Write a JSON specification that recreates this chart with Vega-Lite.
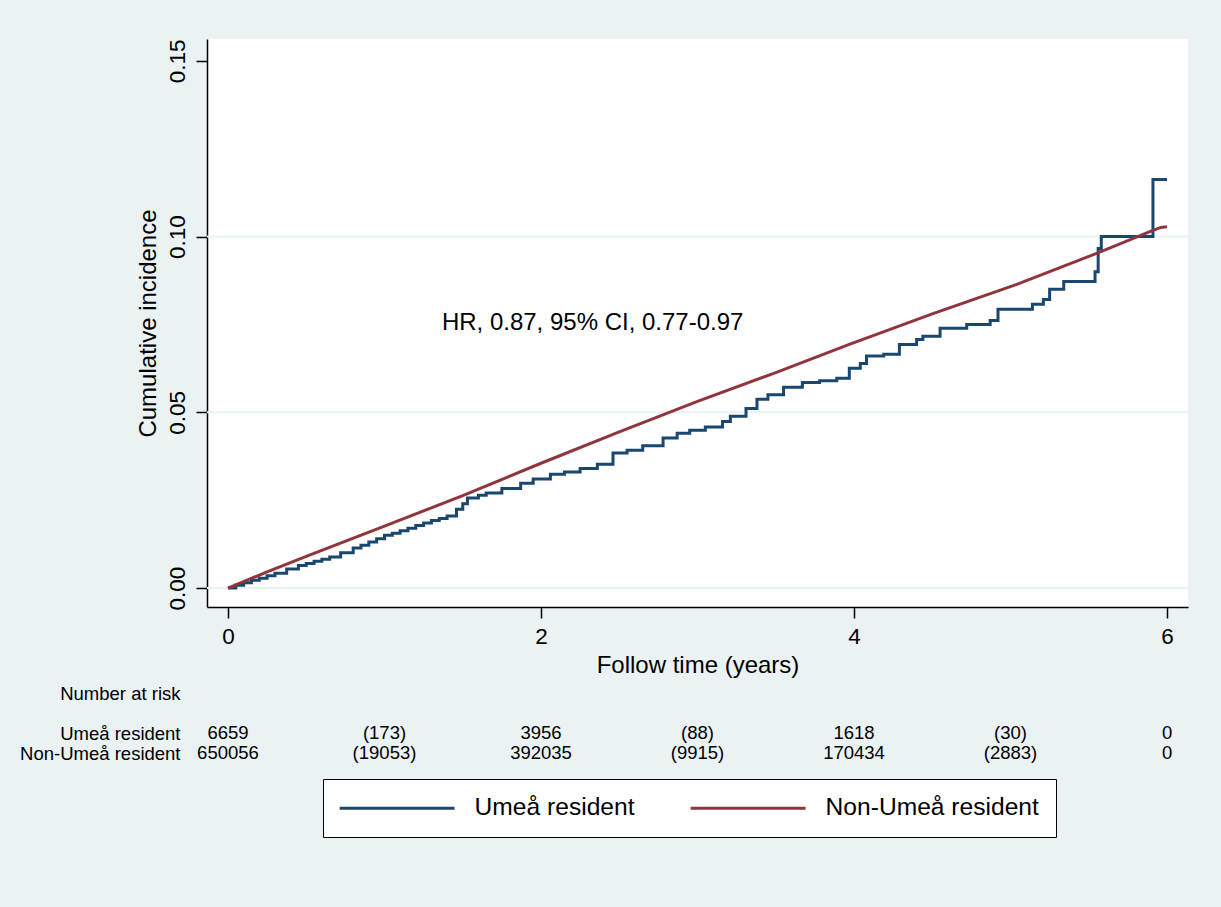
{
  "$schema": "https://vega.github.io/schema/vega-lite/v6.json",
  "background": "#EAF2F3",
  "padding": {"left": 19, "top": 38, "right": 33, "bottom": 71},
  "config": {
    "font": "Liberation Sans",
    "view": {"stroke": null},
    "axis": {"labelColor": "black", "titleColor": "black", "domainColor": "black", "tickColor": "black", "titleFontWeight": "normal", "grid": false}
  },
  "spacing": 5,
  "resolve": {"scale": {"x": "independent", "y": "independent"}},
  "datasets": {
    "curves": [
      {"group": "Umeå resident", "t": 0, "ci": 0},
      {"group": "Umeå resident", "t": 0.05, "ci": 0.0008},
      {"group": "Umeå resident", "t": 0.1, "ci": 0.0015},
      {"group": "Umeå resident", "t": 0.15, "ci": 0.0022},
      {"group": "Umeå resident", "t": 0.2, "ci": 0.0028},
      {"group": "Umeå resident", "t": 0.25, "ci": 0.0035},
      {"group": "Umeå resident", "t": 0.3, "ci": 0.0042},
      {"group": "Umeå resident", "t": 0.375, "ci": 0.0054},
      {"group": "Umeå resident", "t": 0.45, "ci": 0.0064},
      {"group": "Umeå resident", "t": 0.5, "ci": 0.007},
      {"group": "Umeå resident", "t": 0.55, "ci": 0.0076},
      {"group": "Umeå resident", "t": 0.6, "ci": 0.0082},
      {"group": "Umeå resident", "t": 0.65, "ci": 0.0088},
      {"group": "Umeå resident", "t": 0.72, "ci": 0.01},
      {"group": "Umeå resident", "t": 0.8, "ci": 0.0114},
      {"group": "Umeå resident", "t": 0.85, "ci": 0.0122},
      {"group": "Umeå resident", "t": 0.9, "ci": 0.0131},
      {"group": "Umeå resident", "t": 0.95, "ci": 0.014},
      {"group": "Umeå resident", "t": 1.0, "ci": 0.015},
      {"group": "Umeå resident", "t": 1.05, "ci": 0.0156},
      {"group": "Umeå resident", "t": 1.1, "ci": 0.0163},
      {"group": "Umeå resident", "t": 1.15, "ci": 0.017},
      {"group": "Umeå resident", "t": 1.2, "ci": 0.0178},
      {"group": "Umeå resident", "t": 1.25, "ci": 0.0185},
      {"group": "Umeå resident", "t": 1.3, "ci": 0.0192},
      {"group": "Umeå resident", "t": 1.35, "ci": 0.0198},
      {"group": "Umeå resident", "t": 1.4, "ci": 0.0205},
      {"group": "Umeå resident", "t": 1.46, "ci": 0.0224},
      {"group": "Umeå resident", "t": 1.5, "ci": 0.024},
      {"group": "Umeå resident", "t": 1.53, "ci": 0.0256},
      {"group": "Umeå resident", "t": 1.6, "ci": 0.0264},
      {"group": "Umeå resident", "t": 1.65, "ci": 0.027},
      {"group": "Umeå resident", "t": 1.75, "ci": 0.0283},
      {"group": "Umeå resident", "t": 1.87, "ci": 0.0298},
      {"group": "Umeå resident", "t": 1.95, "ci": 0.031},
      {"group": "Umeå resident", "t": 2.06, "ci": 0.0324},
      {"group": "Umeå resident", "t": 2.15, "ci": 0.033},
      {"group": "Umeå resident", "t": 2.25, "ci": 0.034},
      {"group": "Umeå resident", "t": 2.36, "ci": 0.0352},
      {"group": "Umeå resident", "t": 2.46, "ci": 0.0384},
      {"group": "Umeå resident", "t": 2.55, "ci": 0.0392},
      {"group": "Umeå resident", "t": 2.65, "ci": 0.0405},
      {"group": "Umeå resident", "t": 2.78, "ci": 0.0427},
      {"group": "Umeå resident", "t": 2.87, "ci": 0.044},
      {"group": "Umeå resident", "t": 2.95, "ci": 0.0449},
      {"group": "Umeå resident", "t": 3.05, "ci": 0.0458},
      {"group": "Umeå resident", "t": 3.16, "ci": 0.0474},
      {"group": "Umeå resident", "t": 3.21, "ci": 0.0489},
      {"group": "Umeå resident", "t": 3.31, "ci": 0.0511},
      {"group": "Umeå resident", "t": 3.38, "ci": 0.0537},
      {"group": "Umeå resident", "t": 3.45, "ci": 0.055},
      {"group": "Umeå resident", "t": 3.55, "ci": 0.0571},
      {"group": "Umeå resident", "t": 3.67, "ci": 0.0585},
      {"group": "Umeå resident", "t": 3.78, "ci": 0.059},
      {"group": "Umeå resident", "t": 3.89, "ci": 0.0597},
      {"group": "Umeå resident", "t": 3.97, "ci": 0.0625},
      {"group": "Umeå resident", "t": 4.04, "ci": 0.0639},
      {"group": "Umeå resident", "t": 4.08, "ci": 0.066},
      {"group": "Umeå resident", "t": 4.19, "ci": 0.0665},
      {"group": "Umeå resident", "t": 4.29, "ci": 0.0693},
      {"group": "Umeå resident", "t": 4.4, "ci": 0.0707},
      {"group": "Umeå resident", "t": 4.44, "ci": 0.0716},
      {"group": "Umeå resident", "t": 4.55, "ci": 0.0739},
      {"group": "Umeå resident", "t": 4.72, "ci": 0.075},
      {"group": "Umeå resident", "t": 4.87, "ci": 0.0761},
      {"group": "Umeå resident", "t": 4.92, "ci": 0.0793},
      {"group": "Umeå resident", "t": 5.14, "ci": 0.0807},
      {"group": "Umeå resident", "t": 5.21, "ci": 0.0821},
      {"group": "Umeå resident", "t": 5.25, "ci": 0.085},
      {"group": "Umeå resident", "t": 5.34, "ci": 0.0872},
      {"group": "Umeå resident", "t": 5.54, "ci": 0.09},
      {"group": "Umeå resident", "t": 5.56, "ci": 0.0966},
      {"group": "Umeå resident", "t": 5.58, "ci": 0.1},
      {"group": "Umeå resident", "t": 5.91, "ci": 0.1162},
      {"group": "Umeå resident", "t": 6.0, "ci": 0.1162},
      {"group": "Non-Umeå resident", "t": 0, "ci": 0},
      {"group": "Non-Umeå resident", "t": 0.25, "ci": 0.0046},
      {"group": "Non-Umeå resident", "t": 0.5, "ci": 0.009},
      {"group": "Non-Umeå resident", "t": 1.0, "ci": 0.0176},
      {"group": "Non-Umeå resident", "t": 1.5, "ci": 0.0263},
      {"group": "Non-Umeå resident", "t": 2.0, "ci": 0.0355},
      {"group": "Non-Umeå resident", "t": 2.5, "ci": 0.0444},
      {"group": "Non-Umeå resident", "t": 3.0, "ci": 0.0531},
      {"group": "Non-Umeå resident", "t": 3.5, "ci": 0.0613},
      {"group": "Non-Umeå resident", "t": 3.97, "ci": 0.0693},
      {"group": "Non-Umeå resident", "t": 4.5, "ci": 0.078},
      {"group": "Non-Umeå resident", "t": 5.04, "ci": 0.0864},
      {"group": "Non-Umeå resident", "t": 5.55, "ci": 0.0952},
      {"group": "Non-Umeå resident", "t": 5.89, "ci": 0.1014},
      {"group": "Non-Umeå resident", "t": 5.96, "ci": 0.1026},
      {"group": "Non-Umeå resident", "t": 6.0, "ci": 0.1028}
    ],
    "grid": [{"g": 0}, {"g": 0.05}, {"g": 0.1}],
    "note": [{"label": "HR, 0.87, 95% CI, 0.77-0.97", "t": 2.33, "ci": 0.0753}],
    "risk": [
      {"group": "Umeå resident", "t": 0, "n": "6659"},
      {"group": "Umeå resident", "t": 1, "n": "(173)"},
      {"group": "Umeå resident", "t": 2, "n": "3956"},
      {"group": "Umeå resident", "t": 3, "n": "(88)"},
      {"group": "Umeå resident", "t": 4, "n": "1618"},
      {"group": "Umeå resident", "t": 5, "n": "(30)"},
      {"group": "Umeå resident", "t": 6, "n": "0"},
      {"group": "Non-Umeå resident", "t": 0, "n": "650056"},
      {"group": "Non-Umeå resident", "t": 1, "n": "(19053)"},
      {"group": "Non-Umeå resident", "t": 2, "n": "392035"},
      {"group": "Non-Umeå resident", "t": 3, "n": "(9915)"},
      {"group": "Non-Umeå resident", "t": 4, "n": "170434"},
      {"group": "Non-Umeå resident", "t": 5, "n": "(2883)"},
      {"group": "Non-Umeå resident", "t": 6, "n": "0"}
    ]
  },
  "vconcat": [
    {
      "width": 981,
      "height": 568,
      "view": {"fill": "white", "stroke": null},
      "layer": [
        {
          "data": {"name": "grid"},
          "mark": {"type": "rule", "color": "#EAF2F3", "strokeWidth": 2},
          "encoding": {
            "y": {"field": "g", "type": "quantitative", "title": "Cumulative incidence", "scale": {"domain": [-0.0054, 0.1562], "nice": false, "zero": false}}
          }
        },
        {
          "data": {"name": "curves"},
          "transform": [{"filter": "datum.group === 'Umeå resident'"}],
          "mark": {"type": "line", "interpolate": "step-after", "strokeWidth": 3},
          "encoding": {
            "x": {"field": "t", "type": "quantitative", "scale": {"domain": [-0.134, 6.134], "nice": false, "zero": false},
              "axis": {"values": [0, 2, 4, 6], "format": "d", "title": "Follow time (years)", "titleFontSize": 24, "labelFontSize": 22.5, "tickSize": 11, "tickWidth": 1.5, "domainWidth": 1.5, "labelPadding": 7, "titlePadding": 6, "labelFlush": false}},
            "y": {"field": "ci", "type": "quantitative", "title": "Cumulative incidence", "scale": {"domain": [-0.0054, 0.1562], "nice": false, "zero": false},
              "axis": {"values": [0, 0.05, 0.1, 0.15], "format": ".2f", "titleFontSize": 24, "labelFontSize": 22.5, "labelAngle": -90, "labelAlign": "center", "labelBaseline": "alphabetic", "labelPadding": 12, "tickSize": 11, "tickWidth": 1.5, "domainWidth": 1.5, "titlePadding": 6}},
            "color": {"field": "group", "type": "nominal", "scale": {"domain": ["Umeå resident", "Non-Umeå resident"], "range": ["#1A476F", "#90353B"]},
              "legend": {"title": null, "orient": "none", "legendX": 116, "legendY": 740, "direction": "horizontal", "columns": 2, "symbolType": "M-2.2,0H17.8", "symbolSize": 132, "symbolStrokeWidth": 3, "labelFontSize": 24.6, "labelOffset": 110, "columnPadding": 49, "padding": 17, "strokeColor": "black", "fillColor": "white", "labelColor": "black", "labelLimit": 400}}
          }
        },
        {
          "data": {"name": "curves"},
          "transform": [{"filter": "datum.group === 'Non-Umeå resident'"}],
          "mark": {"type": "line", "strokeWidth": 3},
          "encoding": {
            "x": {"field": "t", "type": "quantitative"},
            "y": {"field": "ci", "type": "quantitative", "title": "Cumulative incidence"},
            "color": {"field": "group", "type": "nominal"}
          }
        },
        {
          "data": {"name": "note"},
          "mark": {"type": "text", "fontSize": 24, "color": "black"},
          "encoding": {
            "x": {"field": "t", "type": "quantitative"},
            "y": {"field": "ci", "type": "quantitative", "title": "Cumulative incidence"},
            "text": {"field": "label", "type": "nominal"}
          }
        }
      ]
    },
    {
      "width": 981,
      "height": 80,
      "data": {"name": "risk"},
      "mark": {"type": "text", "fontSize": 18.5, "color": "black"},
      "encoding": {
        "x": {"field": "t", "type": "quantitative", "scale": {"domain": [-0.134, 6.134], "nice": false, "zero": false}, "axis": null},
        "y": {"field": "group", "type": "nominal", "scale": {"domain": ["Number at risk", " ", "Umeå resident", "Non-Umeå resident"], "paddingInner": 0, "paddingOuter": 0},
          "axis": {"title": null, "domain": false, "ticks": false, "labelFontSize": 18.5, "labelPadding": 27, "labelAlign": "right"}},
        "text": {"field": "n", "type": "nominal"}
      }
    }
  ]
}
